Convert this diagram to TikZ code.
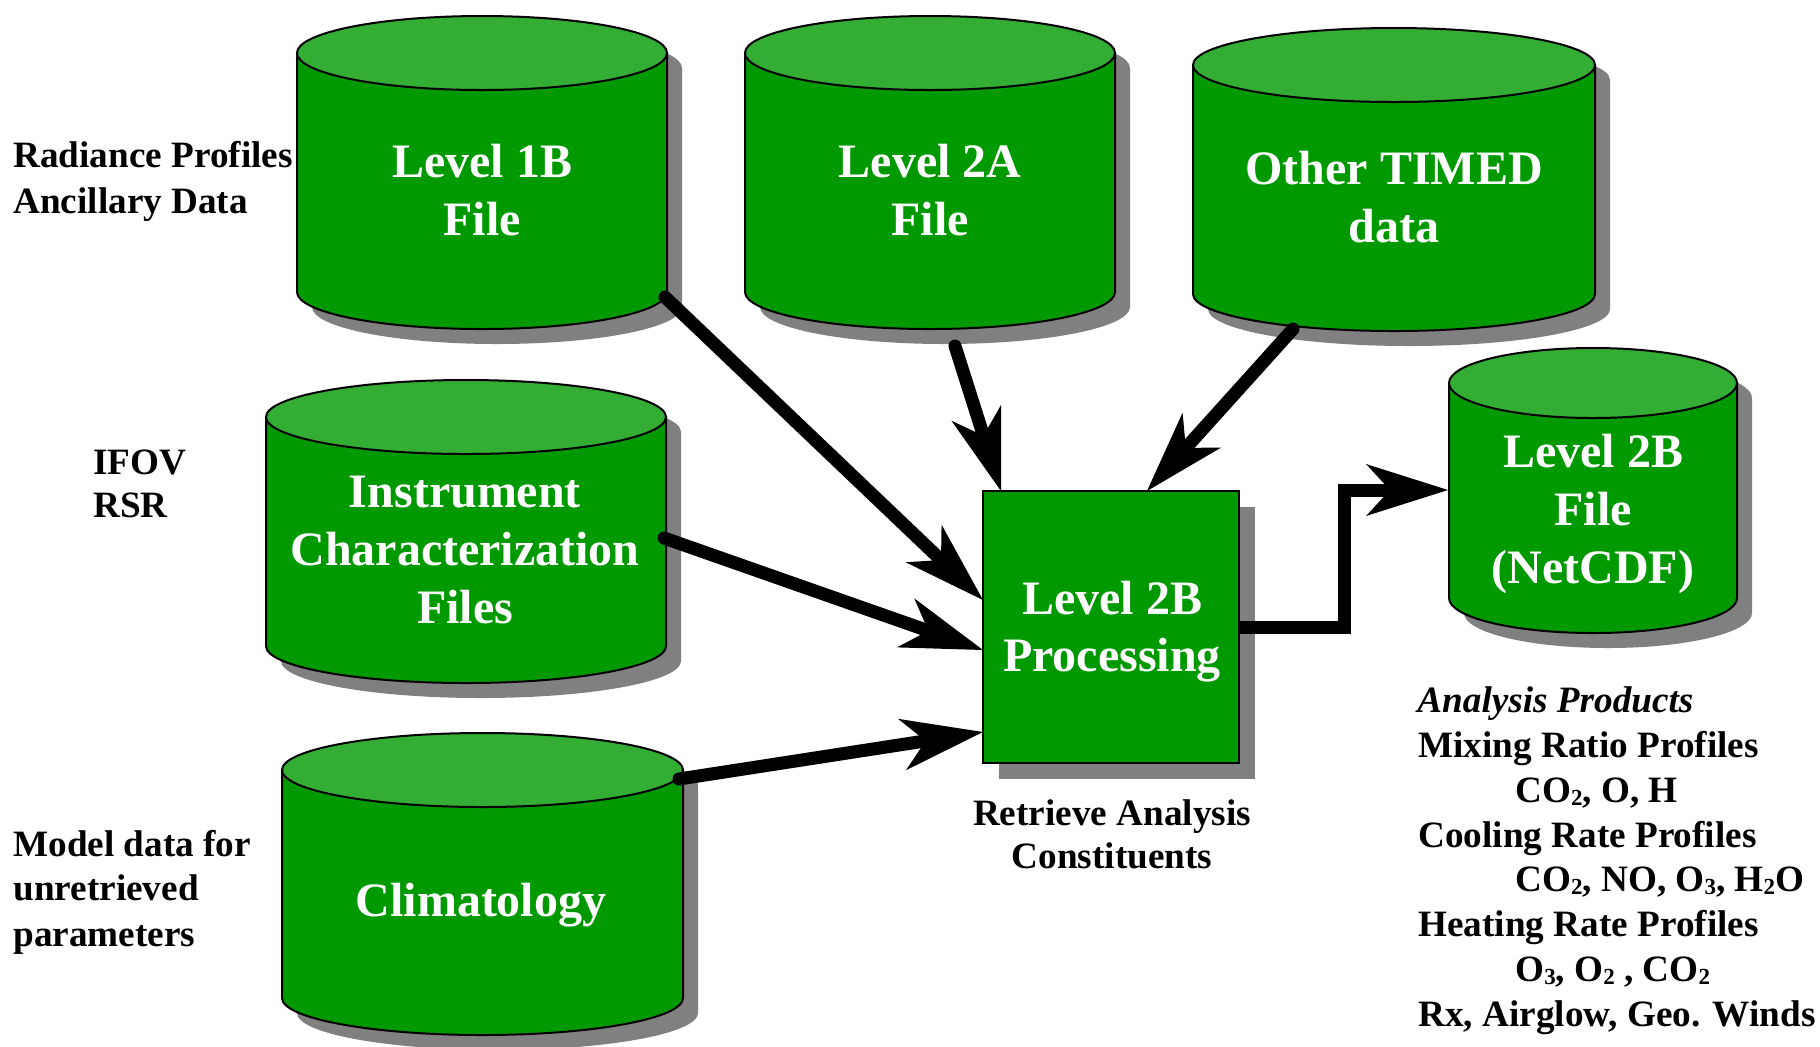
\documentclass[tikz,border=0pt]{standalone}
\usepackage{fontspec}
\setmainfont{Liberation Serif}
\usetikzlibrary{arrows.meta}

\definecolor{drumside}{RGB}{0,153,0}
\definecolor{drumtop}{RGB}{51,173,51}
\definecolor{castgray}{RGB}{128,128,128}

% chemical subscript: small and only slightly lowered
\newcommand\chemsub[1]{\raisebox{-0.1em}{\fontsize{11.5}{12}\selectfont #1}}

% Data store drawn as a cylinder with a drop shadow.
% #1 left x, #2 right x, #3 top-centre y, #4 bottom-centre y, #5 half-height of the ellipses
\newcommand\drum[5]{%
  \fill[castgray] ({#1+15},{#3+15}) -- ({#1+15},{#4+15})
     arc[start angle=180,end angle=0,x radius={(#2-#1)/2},y radius=#5]
     -- ({#2+15},{#3+15})
     arc[start angle=0,end angle=-180,x radius={(#2-#1)/2},y radius=#5] -- cycle;
  \filldraw[drumline,fill=drumside] (#1,#3) -- (#1,#4)
     arc[start angle=180,end angle=0,x radius={(#2-#1)/2},y radius=#5]
     -- (#2,#3) -- cycle;
  \filldraw[drumline,fill=drumtop] ({(#1+#2)/2},#3)
     ellipse[x radius={(#2-#1)/2},y radius=#5];
}

\begin{document}
\begin{tikzpicture}[x=0.5pt,y=-0.5pt,
  drumline/.style={draw=black,line width=1pt},
  drumtext/.style={text=white,align=center,inner sep=0pt,
    font=\bfseries\fontsize{24}{29}\selectfont},
  procbox/.style={draw=black,line width=1pt,fill=drumside,
    minimum width=128pt,minimum height=136pt,inner sep=0pt},
  note/.style={inner sep=0pt,anchor=base west,
    font=\bfseries\fontsize{18.6}{22}\selectfont},
  notec/.style={note,anchor=base},
  flow/.style={line width=6.5pt,line cap=round,
    -{Stealth[length=41pt,width=26pt,inset=12pt,line width=0pt]}},
  elbow/.style={line width=6.5pt,line cap=butt,line join=miter,
    -{Stealth[length=41pt,width=26pt,inset=12pt,line width=0pt]}}]

\useasboundingbox (0,0) rectangle (1820,1046);

% data stores
\drum{297}{667}{53}{292}{37}
\drum{745}{1115}{53}{292}{37}
\drum{1193}{1595}{65}{294}{37}
\drum{266}{666}{417}{646}{37}
\drum{282}{683}{770}{998}{37}
\drum{1449}{1737}{383}{598}{35}

\node[drumtext] (l1b) at (482,190) {Level 1B\\File};
\node[drumtext] (l2a) at (930,190) {Level 2A\\File};
\node[drumtext] (timed) at (1394,197) {Other TIMED\\data};
\node[drumtext] (icf) at (465,550) {Instrument\\Characterization\\Files};
\node[drumtext] (clim) at (481,905) {Climatology};
\node[drumtext] (l2bf) at (1593,514) {Level 2B\\File\\(NetCDF)};

% processing step
\fill[castgray] (999,507) rectangle (1255,779);
\node[procbox] (proc) at (1111,627) {};
\node[drumtext,font=\bfseries\fontsize{24}{28.5}\selectfont] (proclabel) at (1112,632) {Level 2B\\Processing};

% connector end points on the outlines
\coordinate (l1b-out) at (665,297);
\coordinate (l2a-out) at (955,346);
\coordinate (timed-out) at (1293,329);
\coordinate (icf-out) at (664,538);
\coordinate (clim-out) at (679,779);
\coordinate (proc-in1) at (983,600);
\coordinate (proc-in2) at (1001,491);
\coordinate (proc-in3) at (1147,491);
\coordinate (proc-in4) at (983,650);
\coordinate (proc-in5) at (983,732);
\coordinate (proc-out) at (1239,627);
\coordinate (l2bf-in) at (1448,490);

\draw[flow] (l1b-out) -- (proc-in1);
\draw[flow] (l2a-out) -- (proc-in2);
\draw[flow] (timed-out) -- (proc-in3);
\draw[flow] (icf-out) -- (proc-in4);
\draw[flow] (clim-out) -- (proc-in5);
\draw[elbow] (proc-out) -- (1344.5,627) -- (1344.5,490) -- (l2bf-in);

% side notes
\node[note] (rad1) at (13,167) {Radiance Profiles};
\node[note] (rad2) at (13,213) {Ancillary Data};
\node[note] (ifov) at (93,474) {IFOV};
\node[note] (rsr) at (93,517) {RSR};
\node[note] (mod1) at (13,856) {Model data for};
\node[note] (mod2) at (13,900) {unretrieved};
\node[note] (mod3) at (13,946) {parameters};
\node[notec] (ret1) at (1112,825) {Retrieve Analysis};
\node[notec] (ret2) at (1112,868) {Constituents};

% analysis products
\node[note,font=\bfseries\itshape\fontsize{18.6}{22}\selectfont] (ap0) at (1417,712) {Analysis Products};
\node[note] (ap1) at (1418,757) {Mixing Ratio Profiles};
\node[note] (ap2) at (1515,802) {CO\chemsub{2}, O, H};
\node[note] (ap3) at (1418,847) {Cooling Rate Profiles};
\node[note] (ap4) at (1515,891) {CO\chemsub{2}, NO, O\chemsub{3}, H\chemsub{2}O};
\node[note] (ap5) at (1418,936) {Heating Rate Profiles};
\node[note] (ap6) at (1515,981) {O\chemsub{3}, O\chemsub{2} , CO\chemsub{2}};
\node[note] (ap7) at (1418,1026) {Rx, Airglow, Geo. Winds};
\end{tikzpicture}
\end{document}
